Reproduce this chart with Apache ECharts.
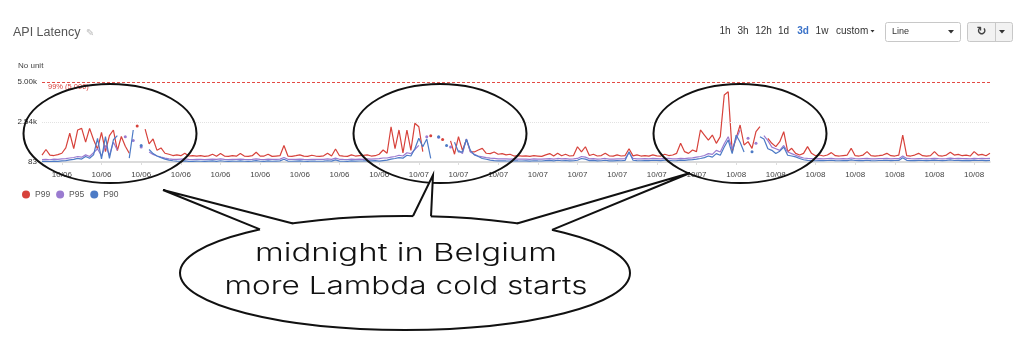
<!DOCTYPE html>
<html><head><meta charset="utf-8">
<script src="https://cdn.jsdelivr.net/npm/echarts@6/dist/echarts.min.js"></script>
<style>html,body{margin:0;padding:0;background:#fff}#c{width:1024px;height:344px}</style>
</head><body><div id="c"></div>
<script>
// ---- data ----
const seriesNames = ['P99', 'P95', 'P90'];
const tickLabels = ['10/06','10/06','10/06','10/06','10/06','10/06','10/06','10/06','10/06',
  '10/07','10/07','10/07','10/07','10/07','10/07','10/07','10/07',
  '10/08','10/08','10/08','10/08','10/08','10/08','10/08'];
const yTicks = [83, 2541.5, 5000];
const threshold = 5000;
const thresholdLabel = '99% (5,000)';

const p99 = [
  500,850,510,480,540,620,950,1850,900,2050,
  2150,1300,2150,1450,880,1900,720,1700,2050,780,
  1650,1050,620,null,2300,null,2100,1200,1500,800,
  950,620,560,480,520,470,620,450,480,440,
  470,430,460,560,440,600,450,430,470,440,
  600,450,430,470,680,440,450,560,430,450,
  470,1100,450,430,470,520,440,430,500,450,
  430,460,620,450,880,470,440,430,520,450,
  470,490,520,450,470,560,820,620,2250,900,2050,
  650,2050,800,2460,2250,720,null,1700,null,null,
  1470,null,1380,560,1640,800,1470,720,700,820,
  920,620,600,700,560,600,520,560,450,470,
  440,460,430,470,450,430,520,600,450,620,
  470,560,450,480,1020,700,1020,480,560,450,
  480,620,460,440,520,450,480,900,460,520,
  450,470,440,520,460,450,560,480,513,615,
  1230,718,615,820,718,2050,1742,1435,1740,1230,
  1640,4200,4400,718,1537,2357,1128,1333,923,1947,
  2255,null,1537,1230,1030,1333,1947,718,923,615,
  513,615,1030,615,472,513,450,513,660,472,
  450,480,510,923,470,450,510,718,470,450,470,
  510,615,470,450,510,1740,470,450,510,615,
  470,450,470,718,470,450,510,680,510,550,
  470,510,450,718,510,550,470,615
];
const p95 = [
  230,250,220,260,240,270,290,330,360,420,
  380,520,420,650,900,450,1100,500,1300,800,
  null,1640,null,1400,null,1000,null,700,550,450,
  380,320,280,250,240,260,270,240,230,250,
  240,230,250,260,240,270,245,230,250,240,
  260,240,230,250,280,240,235,260,240,250,
  260,360,250,240,250,260,240,230,250,245,
  240,250,270,245,320,250,240,235,260,250,
  255,250,270,260,280,290,330,330,380,420,500,
  450,650,600,850,1100,null,1640,null,null,1600,
  null,null,1000,null,800,600,1500,700,550,450,
  400,350,320,300,280,270,275,265,270,260,
  255,265,250,270,260,255,280,290,260,300,
  270,285,260,270,300,420,380,280,290,265,
  270,300,260,265,280,270,290,650,300,280,
  270,285,275,300,290,280,310,300,270,280,
  300,290,320,340,380,420,480,600,550,800,
  700,1200,1640,900,1500,2050,null,1540,null,1230,
  null,1700,1400,1000,900,800,1100,700,600,500,
  400,330,300,290,280,285,275,290,300,280,
  275,285,280,330,285,280,290,300,280,275,285,
  290,300,280,285,290,450,300,285,280,295,
  285,280,290,310,285,280,290,320,290,300,
  285,290,280,310,295,300,285,300
];
const p90 = [
  120,130,115,140,125,150,170,210,240,310,
  260,420,310,520,1540,280,1640,300,1450,1700,
  null,null,320,2050,null,1100,null,850,600,450,
  350,260,200,160,140,130,150,125,120,135,
  130,120,140,150,125,160,130,120,140,130,
  150,130,120,140,170,130,125,150,130,140,
  150,250,140,130,140,150,130,120,145,135,
  130,140,160,135,210,140,130,125,150,140,
  145,150,160,150,170,140,170,200,260,300,350,
  320,500,450,900,1540,1020,1500,300,null,1640,
  null,1100,null,1300,700,700,1480,800,520,420,
  300,250,200,170,150,160,150,145,160,150,
  145,155,140,160,150,145,170,180,150,190,
  160,175,150,160,190,300,260,170,180,155,
  160,190,150,155,170,160,180,720,190,170,
  160,175,165,190,180,170,200,190,160,170,
  200,180,210,230,260,300,350,450,380,600,
  500,1000,1435,600,1740,1300,700,null,720,null,
  1640,1500,900,800,600,750,1000,500,450,400,
  300,220,180,170,160,170,165,175,190,165,
  160,165,170,210,175,165,170,190,170,160,175,
  180,190,170,175,180,350,185,170,165,180,
  175,170,180,200,175,170,180,210,175,185,
  170,180,165,200,175,185,170,180
];
const bubbleLines = ['midnight in Belgium', 'more Lambda cold starts'];

// ---- styling / layout ----
const RED = '#d7423b', PURPLE = '#9a7bd0', BLUE = '#4d7bc6';
const FONT = '"Liberation Sans", Arial, sans-serif';
const categories = p99.map((_, i) => String(i));
const FIRST_TICK = 5, TICK_STEP = 10;
const isTick = i => i >= FIRST_TICK && (i - FIRST_TICK) % TICK_STEP === 0;

function isolated(arr, i) {
  return arr[i] != null && (i === 0 || arr[i - 1] == null) && (i === arr.length - 1 || arr[i + 1] == null);
}
function lineSeries(name, arr, color, z) {
  return {
    name, type: 'line', data: arr, z,
    symbol: 'circle', showSymbol: true, showAllSymbol: true,
    symbolSize: (v, p) => isolated(arr, p.dataIndex) ? 3 : 0,
    lineStyle: { width: 1.2, color }, itemStyle: { color },
    emphasis: { disabled: true }, connectNulls: false
  };
}

function txt(x, y, s, size, color, align, weight, family) {
  return { type: 'text', x, y, z: 50, silent: true,
    style: { text: s, fill: color, font: (weight || 'normal') + ' ' + size + 'px ' + (family || FONT),
      textAlign: align || 'left', textVerticalAlign: 'middle', align: align || 'left', verticalAlign: 'middle' } };
}

// annotation geometry
const ovals = [{ cx: 110, cy: 133.5 }, { cx: 440, cy: 133.5 }, { cx: 740, cy: 133.5 }];
const bub = { cx: 405, cy: 273, rx: 225, ry: 57 };
const ey = x => bub.cy - bub.ry * Math.sqrt(1 - Math.pow((x - bub.cx) / bub.rx, 2));
const spikes = [
  { a: 260, b: 293, tip: [163, 190] },
  { a: 413, b: 431, tip: [433, 175] },
  { a: 517, b: 552, tip: [690, 173] }
];

const graphics = [];
graphics.push(txt(13, 33, 'API Latency', 12.5, '#555'));
graphics.push(txt(86, 33, '\u270E', 10, '#bbb', 'left', 'normal', '"DejaVu Sans", sans-serif'));
graphics.push(txt(18, 66, 'No unit', 8, '#444'));
// top right controls
[['1h', 725], ['3h', 743], ['12h', 763.5], ['1d', 783.5], ['1w', 822]].forEach(([s, x]) =>
  graphics.push(txt(x, 31, s, 10, '#333', 'center')));
graphics.push(txt(803, 31, '3d', 10, '#3a72c8', 'center', 'bold'));
graphics.push(txt(836, 31, 'custom', 10, '#333', 'left'));
graphics.push({ type: 'polygon', z: 50, silent: true, shape: { points: [[870.5, 30], [874.5, 30], [872.5, 32.5]] }, style: { fill: '#333' } });
graphics.push({ type: 'rect', z: 49, silent: true, shape: { x: 885.5, y: 22.5, width: 75, height: 19, r: 2 }, style: { fill: '#fff', stroke: '#c8c8c8', lineWidth: 1 } });
graphics.push(txt(892, 32, 'Line', 9, '#333'));
graphics.push({ type: 'polygon', z: 50, silent: true, shape: { points: [[948, 30], [954, 30], [951, 33.5]] }, style: { fill: '#333' } });
graphics.push({ type: 'rect', z: 49, silent: true, shape: { x: 967.5, y: 22.5, width: 45, height: 19, r: 2 }, style: { fill: '#f2f2f2', stroke: '#c8c8c8', lineWidth: 1 } });
graphics.push({ type: 'line', z: 50, silent: true, shape: { x1: 995.5, y1: 23, x2: 995.5, y2: 41 }, style: { stroke: '#c8c8c8', lineWidth: 1 } });
graphics.push(txt(981.5, 32, '\u21BB', 12, '#444', 'center', 'bold', '"DejaVu Sans", sans-serif'));
graphics.push({ type: 'polygon', z: 50, silent: true, shape: { points: [[999, 30], [1005, 30], [1002, 33.5]] }, style: { fill: '#333' } });

// ovals around the busy periods
ovals.forEach(o => graphics.push({ type: 'ellipse', z: 60, silent: true,
  shape: { cx: o.cx, cy: o.cy, rx: 86.5, ry: 49.5 }, style: { fill: 'none', stroke: '#111', lineWidth: 2 } }));

// speech bubble
graphics.push({ type: 'ellipse', z: 61, silent: true, shape: { cx: bub.cx, cy: bub.cy, rx: bub.rx, ry: bub.ry },
  style: { fill: '#fff', stroke: '#111', lineWidth: 2 } });
spikes.forEach(s => {
  const A = [s.a, ey(s.a)], B = [s.b, ey(s.b)];
  graphics.push({ type: 'polygon', z: 62, silent: true,
    shape: { points: [[A[0] + 1, A[1] + 4], [A[0], A[1]], s.tip, [B[0], B[1]], [B[0] - 1, B[1] + 4]] },
    style: { fill: '#fff' } });
  graphics.push({ type: 'polyline', z: 63, silent: true, shape: { points: [A, s.tip, B] },
    style: { stroke: '#111', lineWidth: 2, fill: null, lineJoin: 'miter' } });
});
const BFONT = 'Inter, "DejaVu Sans", sans-serif', BSIZE = 24, BWEIGHT = '300';
const ctx = document.createElement('canvas').getContext('2d');
ctx.font = BWEIGHT + ' ' + BSIZE + 'px ' + BFONT;
const targetW = [302, 363], baseY = [254, 287];
bubbleLines.forEach((s, k) => {
  const w = ctx.measureText(s).width;
  const t = txt(406, baseY[k], s, BSIZE, '#111', 'center', BWEIGHT, BFONT);
  t.z = 64; t.scaleX = targetW[k] / w;
  graphics.push(t);
});

const chart = echarts.init(document.getElementById('c'), null, { renderer: 'canvas' });
chart.setOption({
  animation: false,
  textStyle: { fontFamily: FONT },
  grid: { left: 42, top: 82, width: 948, height: 80, containLabel: false },
  legend: {
    data: seriesNames, left: 17, top: 185, icon: 'circle', itemWidth: 8, itemHeight: 8, itemGap: 6,
    textStyle: { fontSize: 8.5, color: '#555' }, selectedMode: false
  },
  xAxis: {
    type: 'category', data: categories, boundaryGap: false,
    axisLine: { lineStyle: { color: '#d0d0d0', width: 1.5 } },
    axisTick: { show: true, interval: (i) => isTick(i), length: 3, lineStyle: { color: '#ddd' } },
    axisLabel: { interval: (i) => isTick(i), formatter: (v) => tickLabels[(Number(v) - FIRST_TICK) / TICK_STEP] || '',
      fontSize: 8, color: '#444', margin: 9 },
    splitLine: { show: false }
  },
  yAxis: {
    type: 'value', min: yTicks[0], max: yTicks[2],
    axisLine: { show: false }, axisTick: { show: false }, splitLine: { show: false },
    axisLabel: { customValues: yTicks, formatter: v => v >= 1000 ? (v / 1000).toFixed(2) + 'k' : String(v),
      fontSize: 8, color: '#333', margin: 5 }
  },
  series: [
    Object.assign(lineSeries('P99', p99, RED, 3), {
      markLine: { silent: true, symbol: 'none', animation: false,
        data: [
          { yAxis: threshold, lineStyle: { color: '#e34a44', type: [3, 2], width: 1 },
            label: { show: true, position: 'insideStartBottom', formatter: thresholdLabel, color: '#d9443e', fontSize: 7.5, distance: [6, 1] } },
          { yAxis: yTicks[1], lineStyle: { color: '#e2e2e2', type: 'dotted', width: 1 }, label: { show: false } }
        ] }
    }),
    lineSeries('P95', p95, PURPLE, 4),
    lineSeries('P90', p90, BLUE, 5)
  ],
  graphic: graphics
});
</script></body></html>
